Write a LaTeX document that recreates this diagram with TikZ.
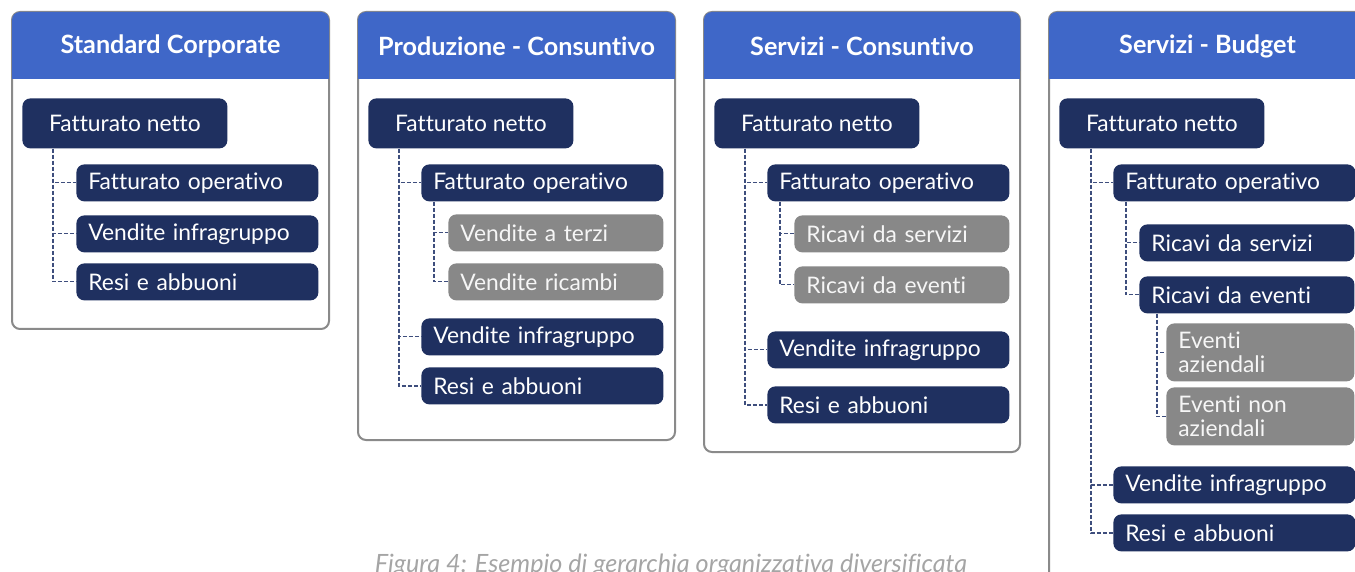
\documentclass[tikz,border=0pt]{standalone}
\usepackage{fontspec}
\setmainfont{Lato}[Ligatures=NoCommon]
\usepackage{xcolor}
\definecolor{headblue}{RGB}{63,103,200}
\definecolor{navybox}{RGB}{31,48,96}
\definecolor{greybox}{RGB}{136,136,136}
\definecolor{framegrey}{RGB}{138,138,138}
\definecolor{linkblue}{RGB}{62,78,125}
\definecolor{captiongrey}{RGB}{165,165,165}

\begin{document}
\begin{tikzpicture}[x=0.5pt, y=-0.5pt,
  pannello/.style={draw=framegrey, line width=1pt, rounded corners=4pt, fill=white},
  testata/.style={text=white, font=\bfseries\fontsize{12.6}{15}\selectfont},
  radice/.style={fill=navybox, text=white, rounded corners=4pt, anchor=north west,
    minimum width=102.5pt, minimum height=25pt, inner sep=0pt, font=\fontsize{11.4}{12}\selectfont},
  voce/.style={fill=navybox, text=white, rounded corners=4pt, anchor=north west,
    text width=#1, inner xsep=6pt, inner ysep=0pt, minimum height=18.5pt, align=left,
    font=\fontsize{11.4}{12}\selectfont},
  voce/.default=109pt,
  grigia/.style={voce=#1, fill=greybox, text=white!92!greybox},
  grigia/.default=95.5pt,
  link/.style={draw=linkblue, line width=0.6pt, dash pattern=on 2pt off 1pt},
  didascalia/.style={text=captiongrey, font=\itshape\fontsize{12.6}{15}\selectfont}]
  \path[use as bounding box, clip] (0,0) rectangle (1355,572);

  % Standard Corporate
  \draw[pannello] (12,12) rectangle (329,329);
  \fill[headblue, rounded corners=4pt] (12,12) rectangle (329,79);
  \fill[headblue] (12,50) rectangle (329,79);
  \node[testata] (t1) at (170.5,46) {Standard Corporate};
  \node[radice] (r1) at (22,98) {Fatturato netto};
  \node[voce] (a1) at (76,164) {Fatturato operativo};
  \node[voce] (b1) at (76,215) {Vendite infragruppo};
  \node[voce] (c1) at (76,263) {Resi e abbuoni};
  \draw[link] ([xshift=15.5pt]r1.south west) |- (a1.west);
  \draw[link] ([xshift=15.5pt]r1.south west) |- (b1.west);
  \draw[link] ([xshift=15.5pt]r1.south west) |- (c1.west);

  % Produzione - Consuntivo
  \draw[pannello] (358,12) rectangle (675,440);
  \fill[headblue, rounded corners=4pt] (358,12) rectangle (675,79);
  \fill[headblue] (358,50) rectangle (675,79);
  \node[testata] (t2) at (516.5,46) {Produzione - Consuntivo};
  \node[radice] (r2) at (368,98) {Fatturato netto};
  \node[voce] (a2) at (421,164) {Fatturato operativo};
  \node[grigia] (a2x) at (448,214) {Vendite a terzi};
  \node[grigia] (a2y) at (448,263) {Vendite ricambi};
  \node[voce] (b2) at (421,318) {Vendite infragruppo};
  \node[voce] (c2) at (421,367) {Resi e abbuoni};
  \draw[link] ([xshift=15.5pt]r2.south west) |- (a2.west);
  \draw[link] ([xshift=15.5pt]r2.south west) |- (b2.west);
  \draw[link] ([xshift=15.5pt]r2.south west) |- (c2.west);
  \draw[link] ([xshift=6.5pt]a2.south west) |- (a2x.west);
  \draw[link] ([xshift=6.5pt]a2.south west) |- (a2y.west);

  % Servizi - Consuntivo
  \draw[pannello] (704,12) rectangle (1020,452);
  \fill[headblue, rounded corners=4pt] (704,12) rectangle (1020,79);
  \fill[headblue] (704,50) rectangle (1020,79);
  \node[testata] (t3) at (862,46) {Servizi - Consuntivo};
  \node[radice] (r3) at (714,98) {Fatturato netto};
  \node[voce] (a3) at (767,164) {Fatturato operativo};
  \node[grigia] (a3x) at (794,215) {Ricavi da servizi};
  \node[grigia] (a3y) at (794,266) {Ricavi da eventi};
  \node[voce] (b3) at (767,331) {Vendite infragruppo};
  \node[voce] (c3) at (767,386) {Resi e abbuoni};
  \draw[link] ([xshift=15.5pt]r3.south west) |- (a3.west);
  \draw[link] ([xshift=15.5pt]r3.south west) |- (b3.west);
  \draw[link] ([xshift=15.5pt]r3.south west) |- (c3.west);
  \draw[link] ([xshift=6.5pt]a3.south west) |- (a3x.west);
  \draw[link] ([xshift=6.5pt]a3.south west) |- (a3y.west);

  % Servizi - Budget
  \draw[pannello] (1049,12) rectangle (1366,600);
  \fill[headblue, rounded corners=4pt] (1049,12) rectangle (1366,79);
  \fill[headblue] (1049,50) rectangle (1366,79);
  \node[testata] (t4) at (1207.5,46) {Servizi - Budget};
  \node[radice] (r4) at (1059,98) {Fatturato netto};
  \node[voce] (a4) at (1113,164) {Fatturato operativo};
  \node[voce=95.5pt] (a4x) at (1139,224) {Ricavi da servizi};
  \node[voce=95.5pt] (a4y) at (1139,276) {Ricavi da eventi};
  \node[grigia=82pt, minimum height=29pt] (a4p) at (1166,323) {Eventi\\aziendali};
  \node[grigia=82pt, minimum height=29pt] (a4q) at (1166,387) {Eventi non\\aziendali};
  \node[voce] (b4) at (1113,466) {Vendite infragruppo};
  \node[voce] (c4) at (1113,514) {Resi e abbuoni};
  \draw[link] ([xshift=16pt]r4.south west) |- (a4.west);
  \draw[link] ([xshift=16pt]r4.south west) |- (b4.west);
  \draw[link] ([xshift=16pt]r4.south west) |- (c4.west);
  \draw[link] ([xshift=6.5pt]a4.south west) |- (a4x.west);
  \draw[link] ([xshift=6.5pt]a4.south west) |- (a4y.west);
  \draw[link] ([xshift=9pt]a4y.south west) |- (a4p.west);
  \draw[link] ([xshift=9pt]a4y.south west) |- (a4q.west);

  \node[didascalia, anchor=base] (cap) at (671,572) {Figura 4: Esempio di gerarchia organizzativa diversificata};
\end{tikzpicture}
\end{document}
